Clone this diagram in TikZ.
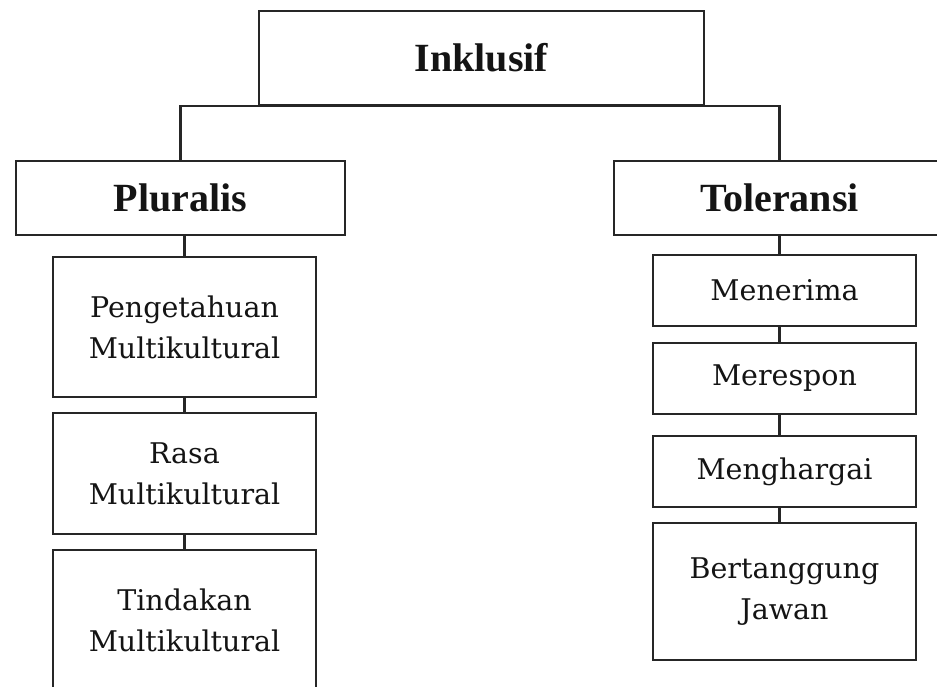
\documentclass[tikz,border=0pt]{standalone}
\usepackage{fontspec}
\setmainfont{DejaVu Serif}
\newfontfamily\headfont{Liberation Serif}
\begin{document}
\begin{tikzpicture}[x=1pt,y=-1pt,
  box/.style={draw=black!85, line width=2.5pt, rectangle, inner sep=0pt,
    align=center, text=black!92},
  headbox/.style={box, font=\headfont\bfseries\fontsize{40}{44}\selectfont},
  itembox/.style={box, minimum width=263pt,
    font=\fontsize{28.5}{41}\selectfont},
  link/.style={draw=black!85, line width=2.5pt}]
  \clip (0,0) rectangle (937,687);
  \fill[white] (0,0) rectangle (937,687);

  % top level
  \node[headbox, minimum width=445pt, minimum height=94pt] (ink) at (481.5,58) {Inklusif};

  % second level
  \node[headbox, minimum width=329pt, minimum height=74pt] (plu) at (180.5,198) {Pluralis};
  \node[headbox, minimum width=331pt, minimum height=74pt] (tol) at (779.5,198) {Toleransi};

  % Pluralis branch
  \node[itembox, minimum height=140pt] (pen) at (184.5,327) {Pengetahuan\\Multikultural};
  \node[itembox, minimum height=121pt] (ras) at (184.5,473.5) {Rasa\\Multikultural};
  \node[itembox, minimum height=140pt] (tin) at (184.5,620) {Tindakan\\Multikultural};

  % Toleransi branch
  \node[itembox, minimum height=71pt] (men) at (784.5,290.5) {Menerima};
  \node[itembox, minimum height=71pt] (mer) at (784.5,378.5) {Merespon};
  \node[itembox, minimum height=71pt] (mhg) at (784.5,471.5) {Menghargai};
  \node[itembox, minimum height=137pt] (ber) at (784.5,591.5) {Bertanggung\\Jawan};

  % connectors
  \draw[link] (plu.north) |- (tol.north |- ink.south) -- (tol.north);
  \draw[link] (plu.south -| pen.north) -- (pen.north);
  \draw[link] (pen.south) -- (ras.north);
  \draw[link] (ras.south) -- (tin.north);
  \draw[link] (tol.south) -- (tol.south |- men.north);
  \draw[link] (men.south -| tol.south) -- (mer.north -| tol.south);
  \draw[link] (mer.south -| tol.south) -- (mhg.north -| tol.south);
  \draw[link] (mhg.south -| tol.south) -- (ber.north -| tol.south);
\end{tikzpicture}
\end{document}
